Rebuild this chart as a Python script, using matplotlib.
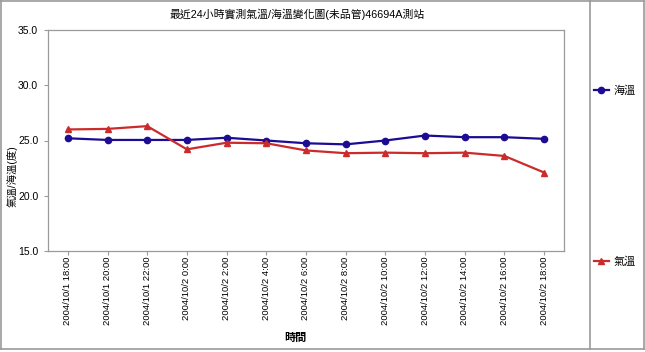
import matplotlib
matplotlib.use('Agg')
import matplotlib.pyplot as plt
from matplotlib.lines import Line2D

plt.rcParams['font.family'] = ['Liberation Sans', 'Noto Sans CJK TC', 'DejaVu Sans']

times = ["2004/10/1 18:00", "2004/10/1 20:00", "2004/10/1 22:00",
         "2004/10/2 0:00", "2004/10/2 2:00", "2004/10/2 4:00",
         "2004/10/2 6:00", "2004/10/2 8:00", "2004/10/2 10:00",
         "2004/10/2 12:00", "2004/10/2 14:00", "2004/10/2 16:00",
         "2004/10/2 18:00"]
sea_temp = [25.2, 25.05, 25.05, 25.05, 25.25, 25.0, 24.75, 24.65, 25.0, 25.45, 25.3, 25.3, 25.15]
air_temp = [26.0, 26.05, 26.3, 24.2, 24.8, 24.75, 24.1, 23.85, 23.9, 23.85, 23.9, 23.6, 22.1]
yticks = [15.0, 20.0, 25.0, 30.0, 35.0]

blue = "#1c0c94"
red = "#cc2b2b"
grey = "#9a9a9a"

fig = plt.figure(figsize=(6.45, 3.52), dpi=100)
ax = fig.add_axes([48/645, 1-251/352, (564-48)/645, (251-30)/352])

x = list(range(len(times)))
l_sea, = ax.plot(x, sea_temp, color=blue, lw=1.6, marker='o', ms=4.5)
l_air, = ax.plot(x, air_temp, color=red, lw=1.6, marker='^', ms=4.5)

ax.set_ylim(15, 35)
ax.set_xlim(-0.5, len(times) - 0.5)
ax.set_yticks(yticks)
ax.set_yticklabels(["%.1f" % v for v in yticks], fontsize=7.5)
ax.set_xticks(x)
ax.set_xticklabels(times, rotation=90, fontsize=6.8)
ax.tick_params(length=3, width=0.8, color=grey, pad=1)
ax.tick_params(axis='y', pad=4)
for s in ax.spines.values():
    s.set_color(grey)
    s.set_linewidth(0.9)

fig.text(12/645, 1-176/352, "氣溫/海溫(度)", rotation=90,
         ha='center', va='center', fontsize=7.5)
fig.text(295/645, 1-338/352, "時間", ha='center', va='center',
         fontsize=8, fontweight='bold')
fig.text(297/645, 1-14/352, "最近24小時實測氣溫/海溫變化圖(未品管)46694A測站",
         ha='center', va='center', fontsize=7.8)

# right side legend, entries far apart
for line, name, ypix in [(l_sea, "海溫", 91), (l_air, "氣溫", 262)]:
    fig.legend([line], [name], loc='center left',
               bbox_to_anchor=(592/645, 1-ypix/352), frameon=False,
               fontsize=8, handlelength=1.3, handletextpad=0.4,
               borderaxespad=0, borderpad=0.2)

# outer frame and separator
frame = dict(color=grey, lw=1.2, transform=fig.transFigure)
fig.add_artist(Line2D([1/645, 644/645], [1-1/352, 1-1/352], **frame))
fig.add_artist(Line2D([1/645, 644/645], [1-349/352, 1-349/352], **frame))
fig.add_artist(Line2D([1/645, 1/645], [1-1/352, 1-349/352], **frame))
fig.add_artist(Line2D([644/645, 644/645], [1-1/352, 1-349/352], **frame))
fig.add_artist(Line2D([590/645, 590/645], [1-1/352, 1-349/352], **frame))

fig.savefig('out.png', dpi=100)
